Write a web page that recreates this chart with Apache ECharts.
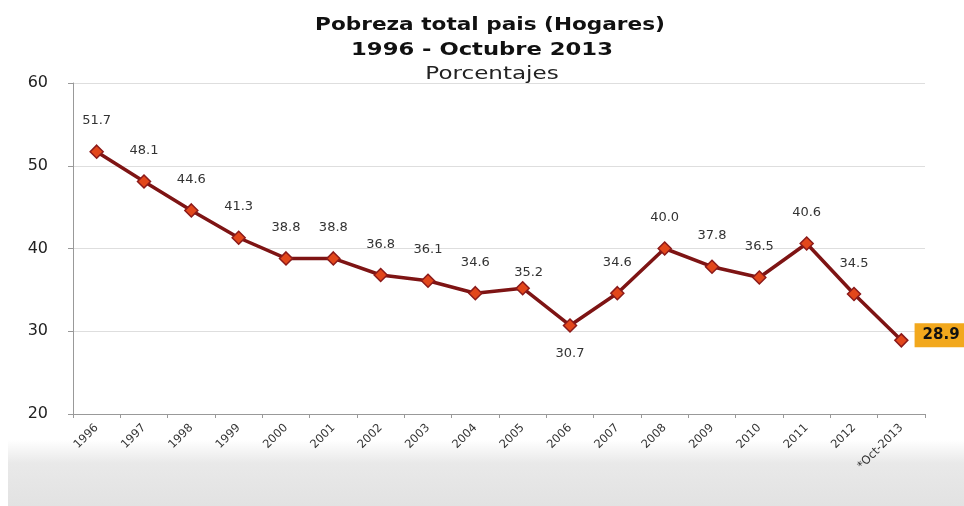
<!DOCTYPE html>
<html>
<head>
<meta charset="utf-8">
<script src="https://cdn.jsdelivr.net/npm/echarts@6/dist/echarts.min.js"></script>
<style>html,body{margin:0;padding:0;background:#fff}#c{width:964px;height:506px}</style>
</head>
<body>
<div id="c"></div>
<script>
var categories = ['1996','1997','1998','1999','2000','2001','2002','2003','2004','2005','2006','2007','2008','2009','2010','2011','2012','*Oct-2013'];
var values = [51.7,48.1,44.6,41.3,38.8,38.8,36.8,36.1,34.6,35.2,30.7,34.6,40.0,37.8,36.5,40.6,34.5,28.9];
var yTicks = [20,30,40,50,60];
var titleLines = ['Pobreza total pais (Hogares)', '1996 - Octubre 2013', 'Porcentajes'];

var chart = echarts.init(document.getElementById('c'));
var data = values.map(function(v, i){
  var d = {value: v};
  if (i === 10) d.label = {position: 'bottom', distance: 14};
  if (i === 9) d.label = {position: 'top', distance: 2, offset: [6, 0]};
  if (i === values.length - 1) d.label = {
    position: 'right', distance: 6, fontWeight: 'bold', fontSize: 15, color: '#111',
    backgroundColor: '#F2A81D', padding: [5, 8, 4, 8], offset: [0, -5]
  };
  return d;
});
function titleText(txt, y, bold, cx, sx){
  return {
    type: 'text', x: cx, y: y, scaleX: sx, z: 10,
    style: {text: txt, textAlign: 'center', textVerticalAlign: 'middle',
      font: (bold ? 'bold ' : '') + '18px "DejaVu Sans"', fill: bold ? '#111' : '#222'}
  };
}
chart.setOption({
  animation: false,
  backgroundColor: '#fff',
  graphic: [{
    type: 'rect', left: 8, top: 440, z: -10,
    shape: {width: 956, height: 66},
    style: {fill: new echarts.graphic.LinearGradient(0,0,0,1,[{offset:0,color:'#ffffff'},{offset:0.35,color:'#e9e9e9'},{offset:1,color:'#e2e2e2'}])}
  },
    titleText(titleLines[0], 25, true, 490, 1.2),
    titleText(titleLines[1], 50, true, 482, 1.26),
    titleText(titleLines[2], 74, false, 492, 1.28)
  ],
  grid: {left: 73, right: 39, top: 83, bottom: 92},
  xAxis: {
    type: 'category', data: categories, boundaryGap: true,
    axisLine: {lineStyle: {color: '#999', width: 1}},
    axisTick: {show: true, length: 4, lineStyle: {color: '#999'}},
    axisLabel: {rotate: 45, interval: 0, fontSize: 11.5, color: '#333', fontFamily: 'DejaVu Sans', margin: 12}
  },
  yAxis: {
    type: 'value', min: 20, max: 60, interval: 10,
    axisLine: {show: true, lineStyle: {color: '#999'}},
    axisTick: {show: true, length: 5, lineStyle: {color: '#999'}},
    axisLabel: {fontSize: 16, color: '#222', margin: 25, fontFamily: 'DejaVu Sans',
      formatter: function(v){ return yTicks.indexOf(v) >= 0 ? String(v) : ''; }},
    splitLine: {show: true, lineStyle: {color: '#dedede', width: 1}}
  },
  series: [{
    type: 'line', data: data,
    lineStyle: {color: '#7E1414', width: 3.5},
    symbol: 'diamond', symbolSize: 13,
    itemStyle: {color: '#E2471B', borderColor: '#8B1A1A', borderWidth: 1.5},
    label: {show: true, position: 'top', distance: 17, fontSize: 13, color: '#333', fontFamily: 'DejaVu Sans',
      formatter: function(p){ return p.value.toFixed(1); }}
  }]
});
</script>
</body>
</html>
